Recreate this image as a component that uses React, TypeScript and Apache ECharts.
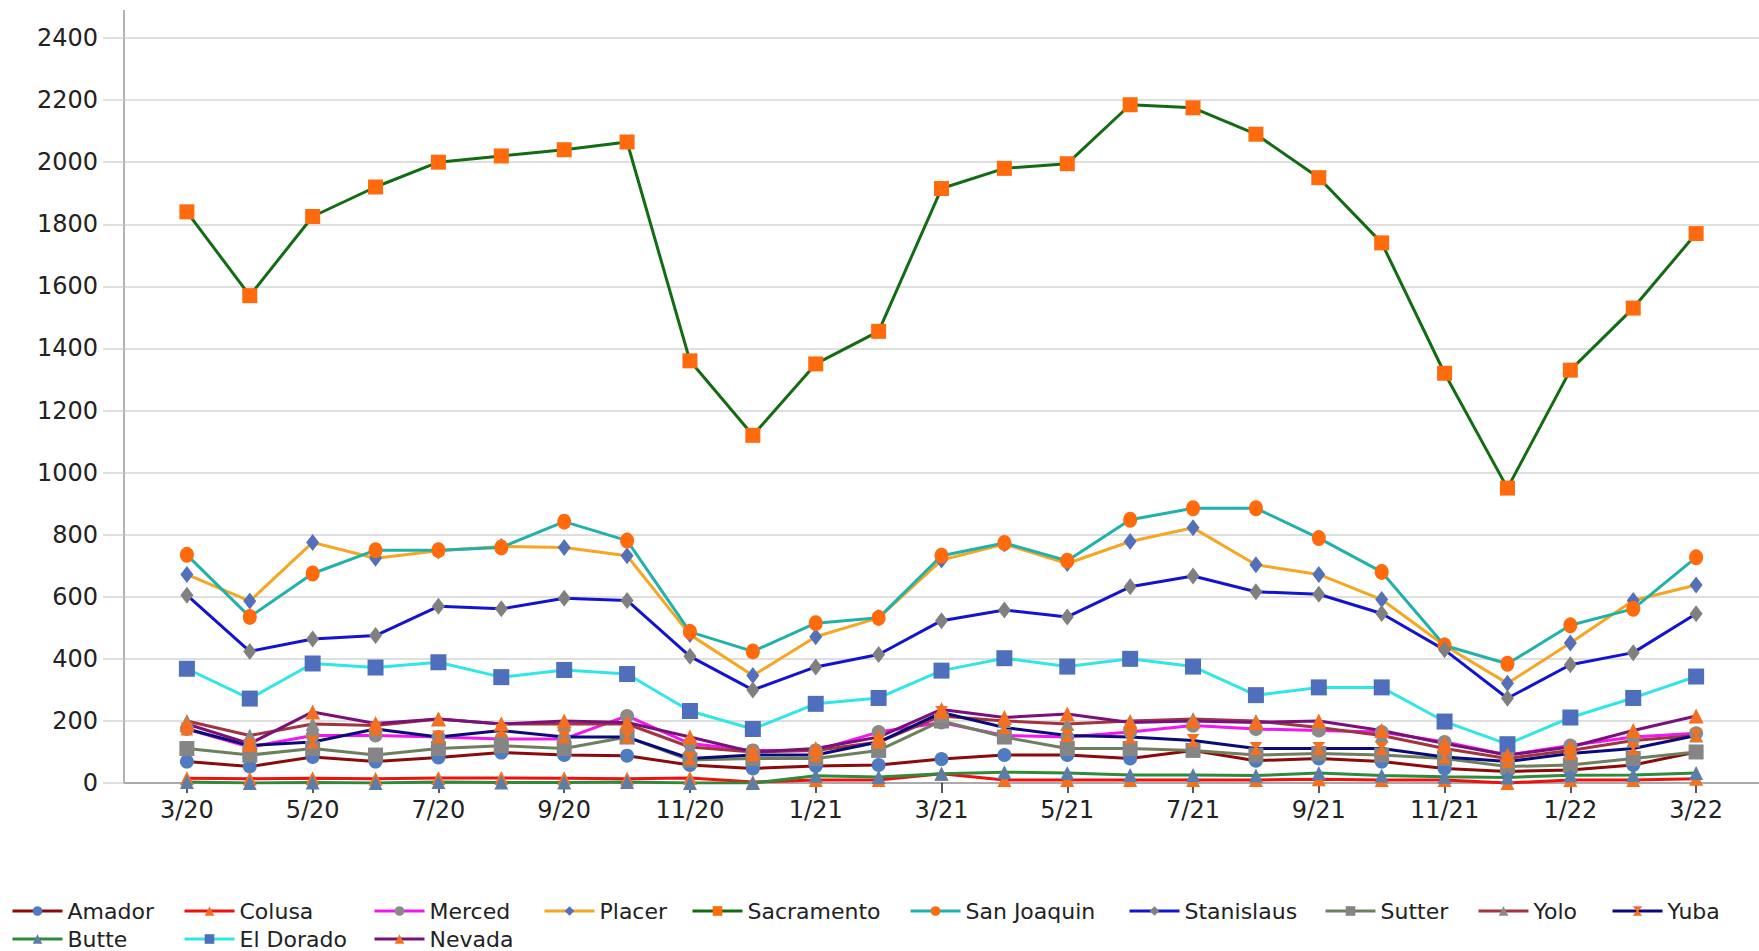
import React, { useEffect, useRef } from "react";
import * as echarts from "echarts";

const months = [
  "3/20", "4/20", "5/20", "6/20", "7/20", "8/20", "9/20", "10/20", "11/20", "12/20",
  "1/21", "2/21", "3/21", "4/21", "5/21", "6/21", "7/21", "8/21", "9/21", "10/21",
  "11/21", "12/21", "1/22", "2/22", "3/22",
];

const amador = [69, 53, 84, 69, 82, 98, 90, 88, 58, 47, 55, 58, 77, 90, 90, 79, 105, 72, 79, 69, 47, 37, 42, 58, 100];
const colusa = [15, 14, 15, 14, 16, 16, 15, 14, 16, 3, 10, 10, 30, 10, 10, 10, 10, 10, 12, 10, 10, 0, 10, 10, 14];
const merced = [174, 116, 153, 153, 148, 142, 142, 216, 127, 105, 105, 164, 195, 153, 148, 164, 185, 174, 169, 164, 132, 90, 121, 148, 160];
const placer = [672, 586, 775, 724, 748, 762, 759, 732, 478, 346, 471, 532, 718, 770, 707, 778, 822, 703, 672, 591, 443, 321, 451, 588, 638];
const sacramento = [1840, 1570, 1825, 1920, 2000, 2020, 2040, 2065, 1360, 1120, 1350, 1455, 1915, 1980, 1995, 2185, 2175, 2090, 1950, 1740, 1320, 950, 1330, 1530, 1770];
const sanJoaquin = [735, 535, 675, 750, 750, 759, 842, 781, 487, 424, 515, 532, 732, 773, 716, 848, 885, 885, 789, 680, 443, 384, 508, 561, 727];
const stanislaus = [605, 424, 464, 475, 569, 561, 595, 588, 408, 300, 374, 414, 523, 557, 535, 632, 667, 616, 608, 546, 429, 273, 381, 420, 545];
const sutter = [111, 90, 111, 90, 111, 120, 111, 148, 74, 79, 79, 105, 200, 148, 111, 111, 105, 90, 95, 90, 79, 53, 58, 79, 100];
const yolo = [200, 153, 190, 185, 206, 190, 190, 190, 116, 100, 105, 132, 216, 200, 190, 200, 206, 200, 179, 153, 111, 79, 105, 137, 153];
const yuba = [174, 121, 132, 174, 148, 169, 148, 148, 79, 90, 90, 132, 227, 179, 153, 148, 137, 111, 111, 111, 84, 69, 95, 111, 153];
const butte = [3, 0, 2, 0, 3, 2, 2, 3, 0, 0, 23, 19, 30, 35, 32, 26, 26, 24, 32, 24, 20, 18, 25, 26, 32];
const elDorado = [368, 272, 385, 372, 389, 341, 364, 351, 232, 174, 255, 274, 362, 402, 375, 400, 375, 283, 308, 308, 198, 125, 211, 274, 343];
const nevada = [190, 127, 229, 192, 206, 190, 200, 195, 148, 100, 111, 148, 237, 211, 222, 195, 200, 195, 200, 169, 127, 90, 116, 169, 216];

const yTicks = { min: 0, max: 2400, step: 200 };

const FONT = "DejaVu Sans";
const HOURGLASS = "path://M0,0 L10,0 L6,5 L10,10 L0,10 L4,5 Z";

type S = {
  name: string;
  data: number[];
  line: string;
  marker: string;
  symbol: string;
  size: number | number[];
  textX: number;
  row: number;
};

const seriesDefs: S[] = [
  { name: "Amador", data: amador, line: "#8B0A0A", marker: "#4F7CC0", symbol: "circle", size: 14, textX: 66, row: 0 },
  { name: "Colusa", data: colusa, line: "#F01010", marker: "#F37021", symbol: "triangle", size: 14, textX: 238, row: 0 },
  { name: "Merced", data: merced, line: "#F018F0", marker: "#8A8A8A", symbol: "circle", size: 14, textX: 428, row: 0 },
  { name: "Placer", data: placer, line: "#F5A623", marker: "#5470B8", symbol: "diamond", size: [13, 17], textX: 598, row: 0 },
  { name: "Sacramento", data: sacramento, line: "#136B13", marker: "#FF6A0D", symbol: "rect", size: 15, textX: 746, row: 0 },
  { name: "San Joaquin", data: sanJoaquin, line: "#20B2AA", marker: "#FF6A0D", symbol: "circle", size: [14, 16], textX: 964, row: 0 },
  { name: "Stanislaus", data: stanislaus, line: "#1414D0", marker: "#808080", symbol: "diamond", size: [13, 17], textX: 1183, row: 0 },
  { name: "Sutter", data: sutter, line: "#6E7F5E", marker: "#858585", symbol: "rect", size: 15, textX: 1379, row: 0 },
  { name: "Yolo", data: yolo, line: "#A0353F", marker: "#8A8A8A", symbol: "triangle", size: 14, textX: 1532, row: 0 },
  { name: "Yuba", data: yuba, line: "#0A0A7A", marker: "#F37021", symbol: HOURGLASS, size: 13, textX: 1666, row: 0 },
  { name: "Butte", data: butte, line: "#2E8B3A", marker: "#5B7DA8", symbol: "triangle", size: 14, textX: 66, row: 1 },
  { name: "El Dorado", data: elDorado, line: "#30E6E6", marker: "#4F6FBD", symbol: "rect", size: 16, textX: 238, row: 1 },
  { name: "Nevada", data: nevada, line: "#7A107A", marker: "#F37021", symbol: "triangle", size: 15, textX: 428, row: 1 },
];

const rowTops = [900, 928];

export default function App() {
  const ref = useRef<HTMLDivElement>(null);
  useEffect(() => {
    if (!ref.current) return;
    const chart = echarts.init(ref.current, undefined, { renderer: "svg" });
    const cats = ["", ...months, ""];
    const showIdx = (i: number) => i >= 1 && i <= months.length && (i - 1) % 2 === 0;
    chart.setOption({
      animation: false,
      backgroundColor: "#ffffff",
      grid: { left: 124, right: 0, top: 38, bottom: 168, containLabel: false },
      xAxis: {
        type: "category",
        data: cats,
        boundaryGap: false,
        axisLine: { show: true, lineStyle: { color: "#aaaaaa", width: 2 } },
        axisTick: { show: true, interval: (i: number) => showIdx(i), length: 10, lineStyle: { color: "#222", width: 1.5 } },
        axisLabel: {
          interval: (i: number) => showIdx(i),
          fontSize: 24,
          fontFamily: FONT,
          color: "#222",
          margin: 15,
        },
        splitLine: { show: false },
      },
      yAxis: {
        type: "value",
        min: yTicks.min,
        max: yTicks.max,
        interval: yTicks.step,
        axisLine: { show: true, lineStyle: { color: "#9a9a9a", width: 1.5 } },
        axisTick: { show: true, length: 21, lineStyle: { color: "#d4d4d4", width: 1.5 } },
        axisLabel: { fontSize: 24, fontFamily: FONT, color: "#222", margin: 26, formatter: (v: number) => String(v) },
        splitLine: { show: true, lineStyle: { color: "#d4d4d4", width: 1.5 } },
      },
      graphic: [
        { type: "line", shape: { x1: 124, y1: 10, x2: 124, y2: 38 }, style: { stroke: "#9a9a9a", lineWidth: 1.5 } },
      ],
      legend: seriesDefs.map((s) => ({
        data: [s.name],
        left: s.textX - 55,
        top: rowTops[s.row],
        padding: 0,
        itemWidth: 50,
        itemHeight: 12,
        lineStyle: { width: 3 },
        textStyle: { fontSize: 22, fontFamily: FONT, color: "#222", lineHeight: 22 },
      })),
      series: seriesDefs.map((s) => ({
        name: s.name,
        type: "line",
        data: [null, ...s.data],
        symbol: s.symbol,
        symbolSize: s.size,
        showAllSymbol: true,
        lineStyle: { color: s.line, width: 3 },
        itemStyle: { color: s.marker, borderWidth: 0 },
        emphasis: { disabled: true },
      })),
    });
    return () => chart.dispose();
  }, []);
  return (
    <div
      ref={ref}
      style={{ position: "fixed", left: 0, top: 0, width: 1759, height: 951, background: "#fff" }}
    />
  );
}
